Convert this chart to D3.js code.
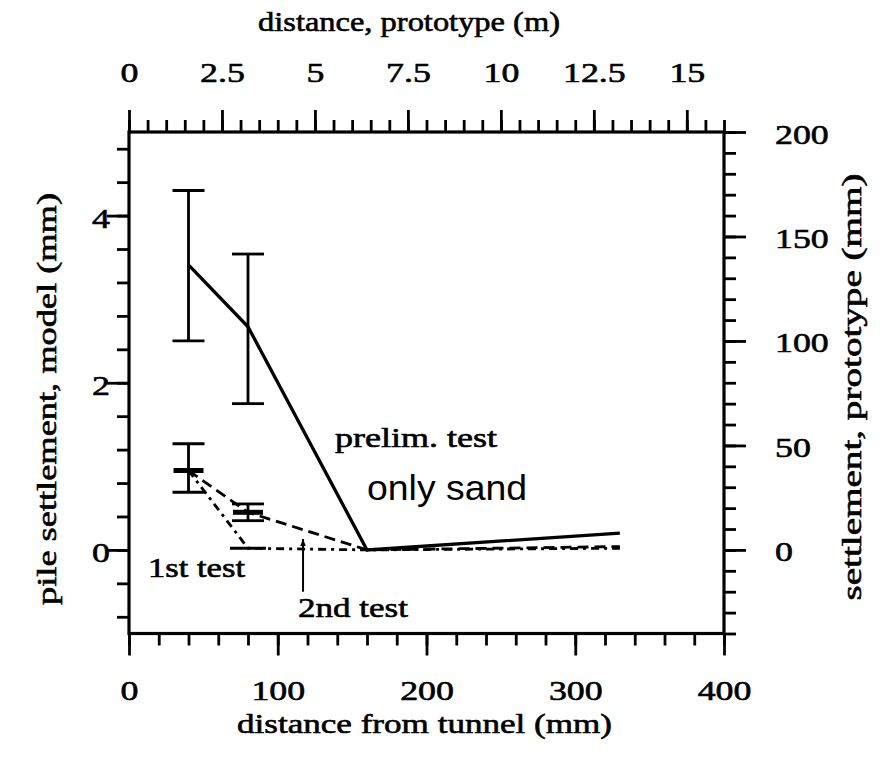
<!DOCTYPE html>
<html><head><meta charset="utf-8">
<script src="https://cdn.jsdelivr.net/npm/d3@7"></script>
<style>body{margin:0;background:#fff} svg{display:block}</style>
</head><body>
<svg id="c" width="882" height="761"></svg>
<script>
// ---- data ----
const distModel = [40, 80, 160, 330];            // mm, model
const prelimSettle = [3.41, 2.67, 0.0, 0.2];     // mm, model
const test1Settle = [0.95, 0.45, 0.0, 0.04];
const test2Settle = [0.95, 0.02, 0.0, 0.02];
const prelimErrDist = [40, 80];
const prelimErrLo = [2.50, 1.75];
const prelimErrHi = [4.30, 3.54];
const testErrDist = [40, 80];
const testErrLo = [0.69, 0.35];
const testErrHi = [1.27, 0.55];
const testMarkDist = [40, 80, 80];
const testMarkVal = [0.95, 0.45, 0.02];
const bottomTicks = [0, 100, 200, 300, 400];
const topTicks = [0, 2.5, 5, 7.5, 10, 12.5, 15];
const leftTicks = [0, 2, 4];
const rightTicks = [0, 50, 100, 150, 200];
const annoText = ["prelim. test", "only sand", "1st test", "2nd test"];
const annoX = [138.5, 160.0, 12.8, 113.6];
const annoY = [1.23, 0.60, -0.32, -0.80];
const arrowX = 117, arrowFrom = -0.5, arrowTo = 0.13;

// ---- layout ----
const L = 129, R = 724, T = 132, B = 633.5;
const SERIF = "'Liberation Serif','Times New Roman',serif";
const SANS = "'Liberation Sans',Arial,sans-serif";
const svg = d3.select('#c');

const xS = d3.scaleLinear().domain([0, 400]).range([L, R]);
const xTop = d3.scaleLinear().domain([0, 16]).range([L, R]);
const yS = d3.scaleLinear().domain([-1, 5]).range([B, T]);
const yR = d3.scaleLinear().domain([-40, 200]).range([B, T]);

function styleAxis(g) {
  g.select('.domain').remove();
  g.selectAll('.tick line').attr('stroke', '#000').attr('stroke-width', 2.8);
  g.attr('font-family', SERIF).attr('font-size', 28).attr('fill', '#000');
  g.selectAll('.tick text').attr('fill', '#000').classed('stretch', true).classed('serif', true);
}

// bottom
svg.append('g').attr('transform', `translate(0,${B})`)
  .call(d3.axisBottom(xS).tickValues(d3.range(0, 401, 20)).tickSize(12).tickFormat('')).call(styleAxis);
svg.append('g').attr('transform', `translate(0,${B})`)
  .call(d3.axisBottom(xS).tickValues(bottomTicks).tickSize(22).tickFormat(d => String(d))).call(styleAxis)
  .selectAll('.tick text').attr('y', 66).attr('dy', 0);
// top
svg.append('g').attr('transform', `translate(0,${T})`)
  .call(d3.axisTop(xTop).tickValues(d3.range(0, 16.01, 0.5)).tickSize(12).tickFormat('')).call(styleAxis);
svg.append('g').attr('transform', `translate(0,${T})`)
  .call(d3.axisTop(xTop).tickValues(topTicks).tickSize(22).tickFormat(d => String(d))).call(styleAxis)
  .selectAll('.tick text').attr('y', -50).attr('dy', 0);
// left
svg.append('g').attr('transform', `translate(${L},0)`)
  .call(d3.axisLeft(yS).tickValues(d3.range(-2, 13).map(k => +(k * 0.4).toFixed(1))).tickSize(12).tickFormat('')).call(styleAxis);
svg.append('g').attr('transform', `translate(${L},0)`)
  .call(d3.axisLeft(yS).tickValues(leftTicks).tickSize(22).tickFormat(d => String(d))).call(styleAxis)
  .selectAll('.tick text').attr('x', -28).attr('dy', 12).attr('text-anchor', 'middle');
// right
svg.append('g').attr('transform', `translate(${R},0)`)
  .call(d3.axisRight(yR).tickValues(d3.range(-40, 201, 10)).tickSize(12).tickFormat('')).call(styleAxis);
svg.append('g').attr('transform', `translate(${R},0)`)
  .call(d3.axisRight(yR).tickValues(rightTicks).tickSize(22).tickFormat(d => String(d))).call(styleAxis)
  .selectAll('.tick text').attr('x', 51).attr('dy', 11).attr('text-anchor', 'start');

// frame
svg.append('rect').attr('x', L).attr('y', T).attr('width', R - L).attr('height', B - T)
  .attr('fill', 'none').attr('stroke', '#000').attr('stroke-width', 3.2);

// ---- series ----
const line = d3.line().x(d => xS(d[0])).y(d => yS(d[1]));
const plot = svg.append('g');
plot.append('path').datum(distModel.map((d, i) => [d, prelimSettle[i]]))
  .attr('d', line).attr('fill', 'none').attr('stroke', '#000').attr('stroke-width', 3.3);
plot.append('path').datum(distModel.map((d, i) => [d, test1Settle[i]]))
  .attr('d', line).attr('fill', 'none').attr('stroke', '#000').attr('stroke-width', 2.8)
  .attr('stroke-dasharray', '11,6');
plot.append('path').datum(distModel.map((d, i) => [d, test2Settle[i]]))
  .attr('d', line).attr('fill', 'none').attr('stroke', '#000').attr('stroke-width', 2.8)
  .attr('stroke-dasharray', '8,5,3,5');

// error bars
function errBars(dist, lo, hi, cap) {
  const g = plot.append('g').attr('stroke', '#000');
  dist.forEach((d, i) => {
    const x = xS(d);
    g.append('line').attr('x1', x).attr('x2', x).attr('y1', yS(lo[i])).attr('y2', yS(hi[i])).attr('stroke-width', 2.8);
    [lo[i], hi[i]].forEach(v => g.append('line').attr('x1', x - cap / 2).attr('x2', x + cap / 2)
      .attr('y1', yS(v)).attr('y2', yS(v)).attr('stroke-width', 2.8));
  });
}
errBars(prelimErrDist, prelimErrLo, prelimErrHi, 32);
errBars(testErrDist, testErrLo, testErrHi, 32);
testMarkDist.forEach((d, i) => {
  const w = i === 2 ? 36 : 30;
  plot.append('line').attr('x1', xS(d) - w / 2).attr('x2', xS(d) + w / 2)
    .attr('y1', yS(testMarkVal[i])).attr('y2', yS(testMarkVal[i]))
    .attr('stroke', '#000').attr('stroke-width', i === 2 ? 3 : 5);
});

// arrow
svg.append('defs').append('marker').attr('id', 'ah').attr('viewBox', '0 0 10 10')
  .attr('refX', 10).attr('refY', 5).attr('markerWidth', 9).attr('markerHeight', 7)
  .attr('markerUnits', 'userSpaceOnUse').attr('orient', 'auto')
  .append('path').attr('d', 'M0,1 L10,5 L0,9 Z').attr('fill', '#000');
plot.append('line').attr('x1', xS(arrowX)).attr('x2', xS(arrowX))
  .attr('y1', yS(arrowFrom)).attr('y2', yS(arrowTo))
  .attr('stroke', '#000').attr('stroke-width', 2).attr('marker-end', 'url(#ah)');

// annotations
const annoLen = [162, 160, 97, 110];
annoText.forEach((t, i) => {
  svg.append('text').attr('x', xS(annoX[i])).attr('y', yS(annoY[i]))
    .attr('class', i === 1 ? '' : 'serif')
    .attr('font-family', i === 1 ? SANS : SERIF).attr('font-size', i === 1 ? 35 : 28)
    .attr('fill', '#000').attr('textLength', annoLen[i]).attr('lengthAdjust', 'spacingAndGlyphs')
    .text(t);
});

// titles
function title(t, x, y, rot, len) {
  svg.append('text').attr('class', 'serif').attr('transform', `translate(${x},${y}) rotate(${rot})`)
    .attr('text-anchor', 'middle').attr('font-family', SERIF).attr('font-size', 28)
    .attr('fill', '#000').attr('textLength', len).attr('lengthAdjust', 'spacingAndGlyphs').text(t);
}
title('distance, prototype (m)', 409, 31, 0, 302);
title('distance from tunnel (mm)', 424.5, 733, 0, 375);
title('pile settlement, model (mm)', 56, 399, -90, 412);
title('settlement, prototype (mm)', 861, 387, -90, 427);

// stretch tick labels horizontally like the scanned font
svg.selectAll('text.stretch').each(function () {
  const w = this.getComputedTextLength();
  d3.select(this).attr('textLength', w * 1.28).attr('lengthAdjust', 'spacingAndGlyphs');
});
// heavier, scan-like serif text
svg.selectAll('text.serif').attr('stroke', '#000').attr('stroke-width', 0.6);
</script>
</body></html>
